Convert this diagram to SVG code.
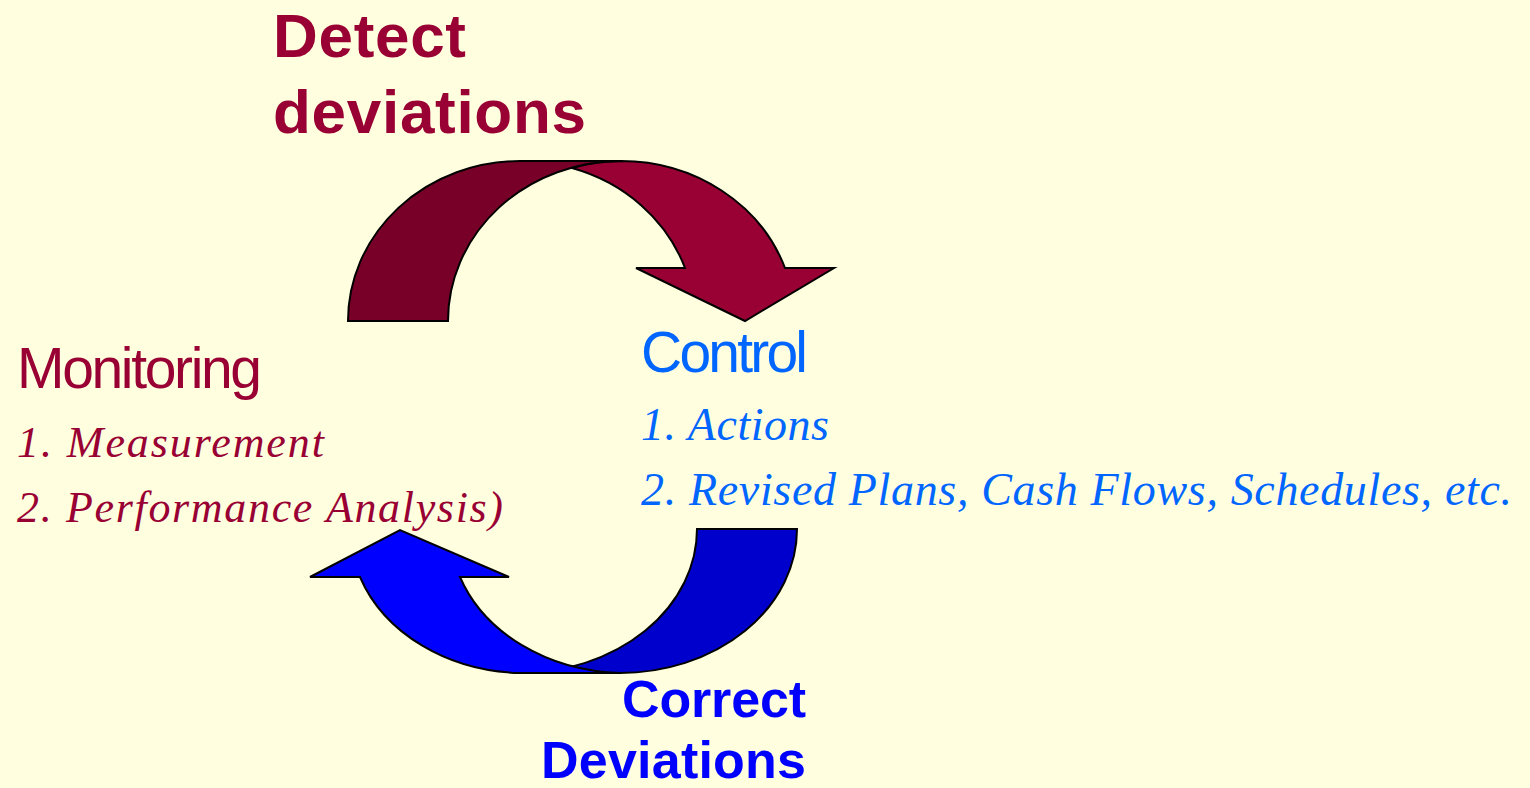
<svg xmlns="http://www.w3.org/2000/svg" width="1530" height="788" viewBox="0 0 1530 788">
<style>
.arr{stroke:#000;stroke-width:2;stroke-linejoin:miter}
.h{font-family:"Liberation Sans",Arial,sans-serif;font-weight:bold;font-size:62px}
.h2{font-family:"Liberation Sans",Arial,sans-serif;font-weight:bold;font-size:52px}
.t{font-family:"Liberation Sans",Arial,sans-serif;font-size:57px}
.i{font-family:"Liberation Serif","Times New Roman",serif;font-style:italic;font-size:44px}
.i2{font-family:"Liberation Serif","Times New Roman",serif;font-style:italic;font-size:46px}
.red{fill:#990033}
.blue{fill:#0066FF}
.dblue{fill:#0000FF}
</style>
<rect x="0" y="0" width="1530" height="788" fill="#FFFFDF"/>
<g id="connectors">
<g id="detect-arrow">
<path class="arr" fill="#990033" d="M621,161 A174,160 0 0 1 785,268 L834,268 L745,321 L636,268 L685,268 A172,160 0 0 0 572,168 A173,160 0 0 1 621,161 Z"/>
<path class="arr" fill="#780028" d="M348,321 A172,160 0 0 1 520,161 L621,161 A173,160 0 0 0 448,321 Z"/>
</g>
<g id="correct-arrow">
<path class="arr" fill="#0000CC" d="M797,529 A177,144 0 0 1 620,673 L520,673 A177,144 0 0 0 697,529 Z"/>
<path class="arr" fill="#0000FF" d="M520,673 L620,673 A176,144 0 0 1 460,577 L509,577 L400,530 L310,577 L360,577 A175,144 0 0 0 520,673 Z"/>
</g>
</g>
<g id="detect-label">
<text class="h red" x="273" y="57" textLength="193">Detect</text>
<text class="h red" x="273" y="133" textLength="313">deviations</text>
</g>
<g id="monitoring">
<text class="t red" x="17" y="388" textLength="245">Monitoring</text>
<text class="i red" x="17" y="457" textLength="307">1. Measurement</text>
<text class="i red" x="17" y="522" textLength="486">2. Performance Analysis)</text>
</g>
<g id="control">
<text class="t blue" x="641" y="372" textLength="167">Control</text>
<text class="i2 blue" x="641" y="440" textLength="188">1. Actions</text>
<text class="i2 blue" x="641" y="505" textLength="871">2. Revised Plans, Cash Flows, Schedules, etc.</text>
</g>
<g id="correct-label">
<text class="h2 dblue" x="622" y="717" textLength="184">Correct</text>
<text class="h2 dblue" x="541" y="778" textLength="265">Deviations</text>
</g>
</svg>
